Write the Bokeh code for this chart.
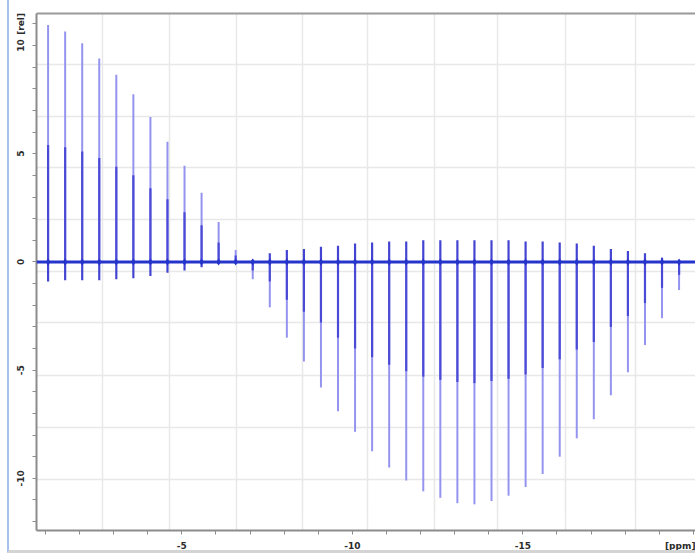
from bokeh.plotting import figure
from bokeh.models import Range1d, FixedTicker, LinearAxis, Span, ColumnDataSource
from bokeh.embed import file_html
from bokeh.resources import INLINE

# Sideband positions (ppm)
shift_ppm = [-1.08, -1.58, -2.08, -2.58, -3.08, -3.58, -4.08, -4.58, -5.08, -5.58,
             -6.08, -6.58, -7.08, -7.58, -8.08, -8.58, -9.08, -9.58, -10.08, -10.58,
             -11.08, -11.58, -12.08, -12.58, -13.08, -13.58, -14.08, -14.58, -15.08, -15.58,
             -16.08, -16.58, -17.08, -17.58, -18.08, -18.58, -19.08, -19.58]

# Full line intensity (rel)
intensity_total = [10.95, 10.65, 10.1, 9.4, 8.65, 7.75, 6.7, 5.55, 4.45, 3.2,
                   1.85, 0.55, -0.8, -2.1, -3.5, -4.6, -5.8, -6.9, -7.85, -8.75,
                   -9.5, -10.1, -10.6, -10.9, -11.15, -11.2, -11.05, -10.8, -10.4, -9.8,
                   -9.0, -8.15, -7.27, -6.16, -5.1, -3.84, -2.6, -1.3]

# Second (darker) component intensity (rel)
intensity_inner = [5.4, 5.3, 5.1, 4.8, 4.4, 4.0, 3.4, 2.9, 2.3, 1.7,
                   0.9, 0.3, -0.4, -0.9, -1.75, -2.3, -2.8, -3.5, -4.0, -4.4,
                   -4.75, -5.05, -5.3, -5.45, -5.55, -5.6, -5.5, -5.4, -5.2, -4.9,
                   -4.5, -4.05, -3.7, -3.0, -2.5, -1.9, -1.2, -0.6]

# Small opposite-phase wiggle at the foot of each line (rel)
intensity_foot = [-0.9, -0.85, -0.85, -0.85, -0.8, -0.75, -0.65, -0.5, -0.4, -0.25,
                  -0.1, 0.0, 0.1, 0.4, 0.55, 0.6, 0.7, 0.75, 0.85, 0.9,
                  0.95, 0.95, 1.0, 1.0, 1.0, 1.0, 1.0, 1.0, 0.95, 0.95,
                  0.9, 0.85, 0.75, 0.6, 0.5, 0.4, 0.2, 0.05]

# Axis labelling: numeric ticks plus the unit tags at the axis ends
x_labels = {-5: "-5", -10: "-10", -15: "-15", -19.62: "[ppm]"}
y_labels = {-10: "-10", -5: "-5", 0: "0", 5: "5", 10: "10", 11.0: "[rel]"}
x_marks = [-float(i) for i in range(1, 21)]
y_marks = [float(i) for i in range(-12, 12)]

# Display grid of the spectrum window
grid_x = [-2.67, -4.65, -6.6, -8.55, -10.45, -12.4, -14.25, -16.25, -18.3]
grid_y = [9.12, 6.71, 4.35, 1.94, -0.42, -2.78, -5.23, -7.64, -10.05]

x_start, x_end = -0.74, -20.12
y_start, y_end = -12.41, 11.48
baseline = 0.0

src = ColumnDataSource(dict(
    x=shift_ppm,
    base=[baseline] * len(shift_ppm),
    total=intensity_total,
    inner=intensity_inner,
    foot=intensity_foot,
))

p = figure(width=688, height=553,
           x_range=Range1d(x_start, x_end), y_range=Range1d(y_start, y_end),
           output_backend="svg", toolbar_location=None,
           min_border_left=27, min_border_right=0, min_border_top=13, min_border_bottom=23,
           styles={"margin-left": "7px", "border-left": "2px solid #a6c2ec",
                   "border-bottom": "3px solid #d4d4d4"})
p.background_fill_color = "white"
p.border_fill_color = "white"
p.outline_line_color = None

# grid
p.xgrid.ticker = FixedTicker(ticks=grid_x)
p.ygrid.ticker = FixedTicker(ticks=grid_y)
for g in (p.xgrid[0], p.ygrid[0]):
    g.grid_line_color = "#e8e8e8"
    g.grid_line_width = 1.5

label_font = "DejaVu Sans"

xa = p.xaxis[0]
xa.ticker = FixedTicker(ticks=list(x_labels.keys()), minor_ticks=x_marks)
xa.major_label_overrides = x_labels
xa.major_label_standoff = 6
ya = p.yaxis[0]
ya.ticker = FixedTicker(ticks=list(y_labels.keys()), minor_ticks=y_marks)
ya.major_label_overrides = y_labels
ya.major_label_orientation = "vertical"
ya.major_label_standoff = 6

for ax in (xa, ya):
    ax.axis_line_color = "#8c8c8c"
    ax.axis_line_width = 2
    ax.major_tick_out = 0
    ax.major_tick_in = 0
    ax.minor_tick_line_color = "#8c8c8c"
    ax.minor_tick_out = 4
    ax.minor_tick_in = 0
    ax.major_label_text_font = label_font
    ax.major_label_text_font_style = "bold"
    ax.major_label_text_font_size = "9px"
    ax.major_label_text_color = "#2b2b2b"

# top frame line
top = LinearAxis(major_tick_out=0, major_tick_in=0, minor_tick_out=0, minor_tick_in=0,
                 major_label_text_font_size="0px", major_label_standoff=0,
                 axis_line_color="#9a9a9a", axis_line_width=2,
                 ticker=FixedTicker(ticks=[]))
p.add_layout(top, "above")

# spectrum lines
p.segment(x0="x", y0="base", x1="x", y1="total", source=src,
          line_color="#9494f0", line_width=2)
p.segment(x0="x", y0="base", x1="x", y1="inner", source=src,
          line_color="#4a4ad6", line_width=2.2)
p.segment(x0="x", y0="base", x1="x", y1="foot", source=src,
          line_color="#4444d2", line_width=2.2)

p.add_layout(Span(location=baseline, dimension="width",
                  line_color="#2535cc", line_width=3))
p.scatter(x="x", y="base", source=src, marker="diamond", size=7,
          fill_color="#2030c8", line_color=None)

open("out.html", "w").write(file_html(p, INLINE))
